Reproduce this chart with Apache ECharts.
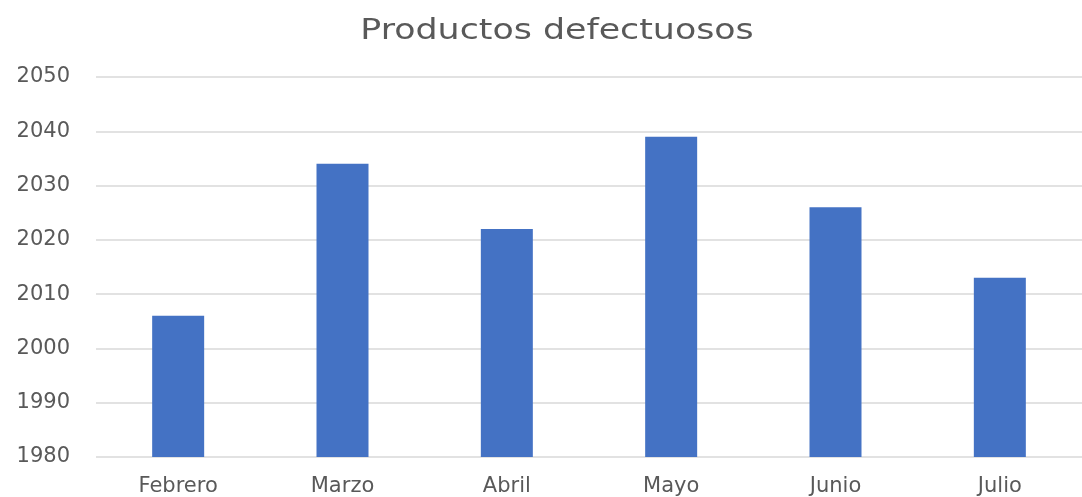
<!DOCTYPE html>
<html>
<head>
<meta charset="utf-8">
<script src="https://cdn.jsdelivr.net/npm/echarts@6/dist/echarts.min.js"></script>
<style>
  html, body { margin: 0; padding: 0; background: #ffffff; }
  #chart { width: 1082px; height: 497px; }
</style>
</head>
<body>
<div id="chart"></div>
<script>
// Defective products per month
const months = ['Febrero', 'Marzo', 'Abril', 'Mayo', 'Junio', 'Julio'];
const defectuosos = [2006, 2034, 2022, 2039, 2026, 2013];
const yTicks = [1980, 1990, 2000, 2010, 2020, 2030, 2040, 2050];
const chartTitle = 'Productos defectuosos';

const textColor = '#595959';
const font = '"DejaVu Sans", "Open Sans", sans-serif';

const chart = echarts.init(document.getElementById('chart'), null, { renderer: 'canvas' });
chart.setOption({
  animation: false,
  backgroundColor: '#ffffff',
  // Wide geometric-style title: a text element stretched horizontally
  graphic: [{
    type: 'text',
    x: 557,
    y: 31,
    scaleX: 1.2,
    style: {
      text: chartTitle,
      fill: textColor,
      font: '29px ' + font,
      textAlign: 'center',
      textVerticalAlign: 'middle'
    }
  }],
  grid: { left: 96, top: 77, width: 990, bottom: 39, containLabel: false },
  xAxis: {
    type: 'category',
    data: months,
    axisLine: { show: false },
    axisTick: { show: false },
    axisLabel: { color: textColor, fontSize: 21, fontFamily: font, margin: 19 }
  },
  yAxis: {
    type: 'value',
    min: yTicks[0],
    max: yTicks[yTicks.length - 1],
    interval: 10,
    axisLine: { show: false },
    axisTick: { show: false },
    axisLabel: {
      color: textColor, fontSize: 21, fontFamily: font, margin: 26,
      formatter: (v) => String(v)
    },
    splitLine: { lineStyle: { color: '#d9d9d9', width: 1.5 } }
  },
  series: [{
    type: 'bar',
    data: defectuosos,
    barWidth: 52,
    itemStyle: { color: '#4472C4' }
  }]
});
</script>
</body>
</html>
